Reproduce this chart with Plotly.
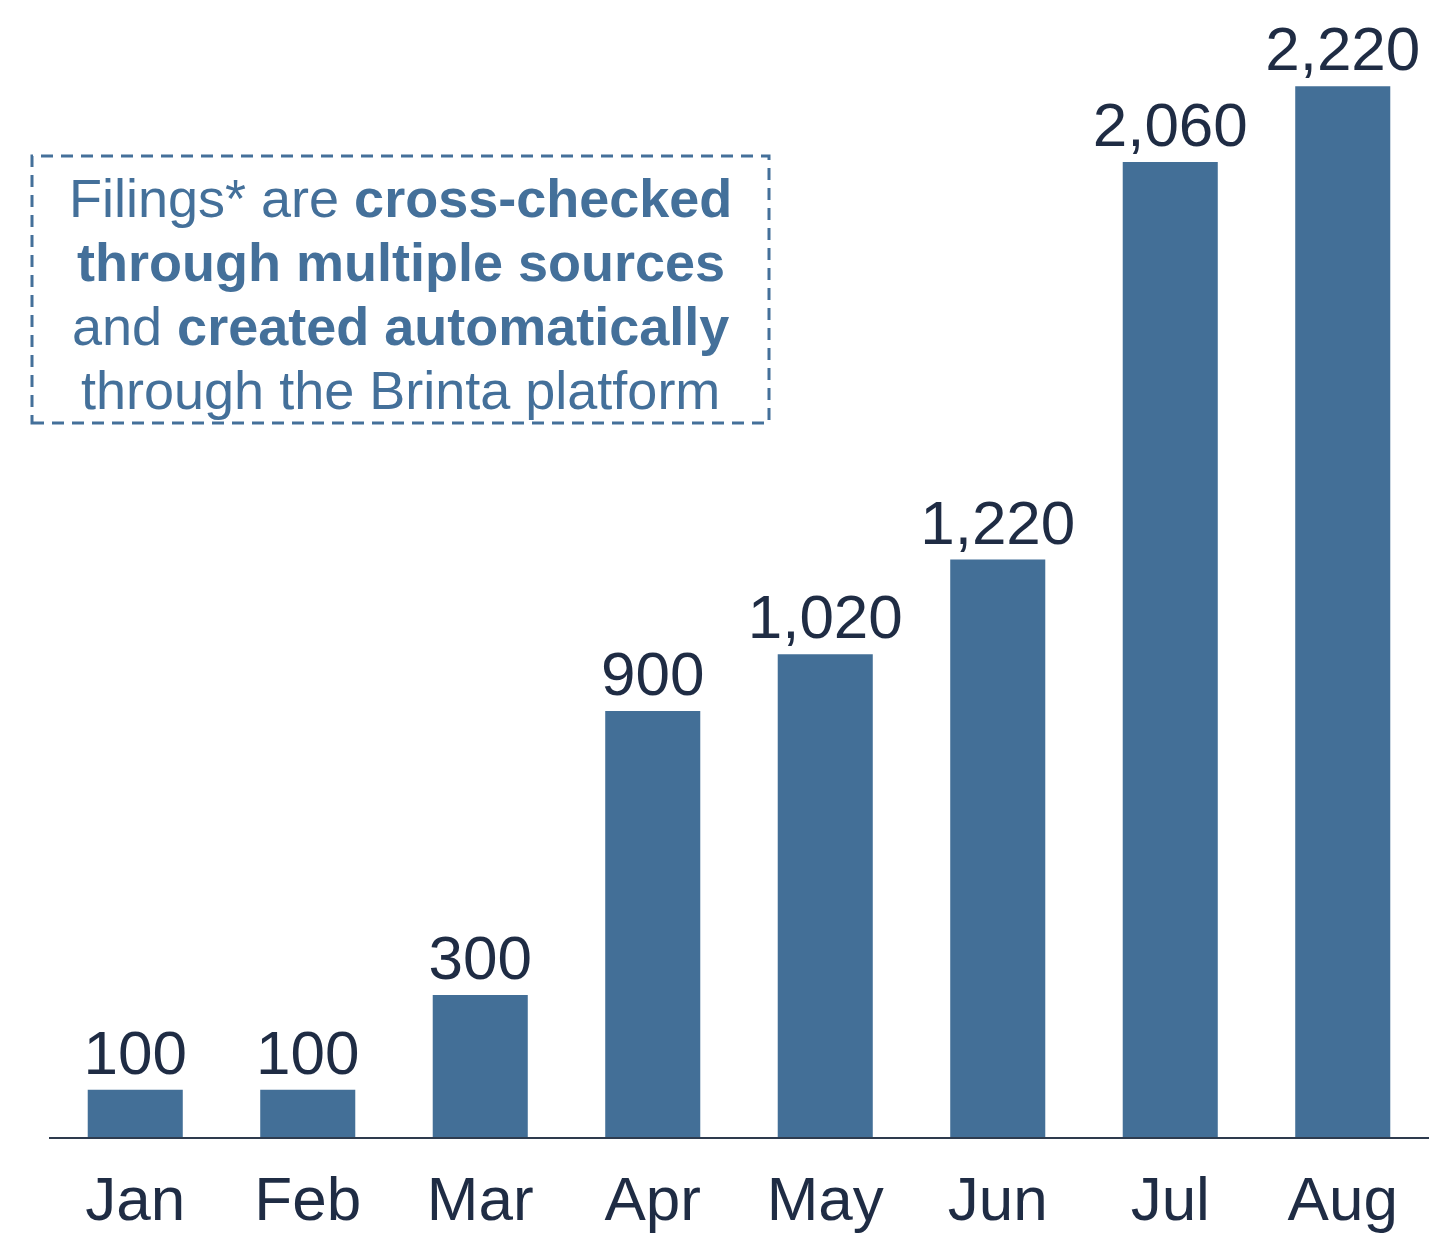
import plotly.graph_objects as go

months = ["Jan", "Feb", "Mar", "Apr", "May", "Jun", "Jul", "Aug"]
filings = [100, 100, 300, 900, 1020, 1220, 2060, 2220]

note_lines = [
    "Filings* are <b>cross-checked</b>",
    "<b>through multiple sources</b>",
    "and <b>created automatically</b>",
    "through the Brinta platform",
]

BAR = "#436f97"
DARK = "#1f2c44"
NOTE = "#44709a"
FONT = "Liberation Sans, Arial, Helvetica, sans-serif"

fig = go.Figure(
    go.Bar(
        x=months,
        y=filings,
        marker=dict(color=BAR, line=dict(width=0)),
        text=[f"{v:,}" for v in filings],
        textposition="outside",
        constraintext="none",
        cliponaxis=False,
        textfont=dict(family=FONT, size=62, color=DARK),
        hoverinfo="skip",
    )
)

W, H = 1430, 1234
ml, mr, mt, mb = 49, 1, 1, 97

fig.update_layout(
    width=W,
    height=H,
    margin=dict(l=ml, r=mr, t=mt, b=mb, autoexpand=False),
    paper_bgcolor="white",
    plot_bgcolor="white",
    bargap=0.449,
    showlegend=False,
    font=dict(family=FONT, color=DARK),
)
fig.update_xaxes(
    showgrid=False,
    showline=True,
    linecolor="#2e3b4e",
    linewidth=2,
    ticks="",
    automargin=False,
    ticklabelstandoff=7,
    tickfont=dict(family=FONT, size=62, color=DARK),
    range=[-0.5, 7.5],
)
fig.update_yaxes(
    visible=False,
    range=[0, 2400],
    showgrid=False,
    zeroline=False,
    automargin=False,
)

# dashed note box (paper coordinates)
pw = W - ml - mr
ph = H - mt - mb
def px_x(x):
    return (x - ml) / pw
def px_y(y):
    return (H - mb - y) / ph

fig.add_shape(
    type="rect", xref="paper", yref="paper",
    x0=px_x(32), x1=px_x(769), y0=px_y(423), y1=px_y(156),
    line=dict(color=NOTE, width=3, dash="12px,8px"),
    fillcolor="rgba(0,0,0,0)",
)
centers = [198, 262, 326, 390]
for line, cy in zip(note_lines, centers):
    fig.add_annotation(
        text=line, xref="paper", yref="paper",
        x=px_x(400.5), y=px_y(cy), xanchor="center", yanchor="middle",
        showarrow=False,
        font=dict(family=FONT, size=54, color=NOTE),
    )

fig.write_html(
    "out.html",
    config={"displayModeBar": False},
    post_script="document.body.style.margin='0';",
)
